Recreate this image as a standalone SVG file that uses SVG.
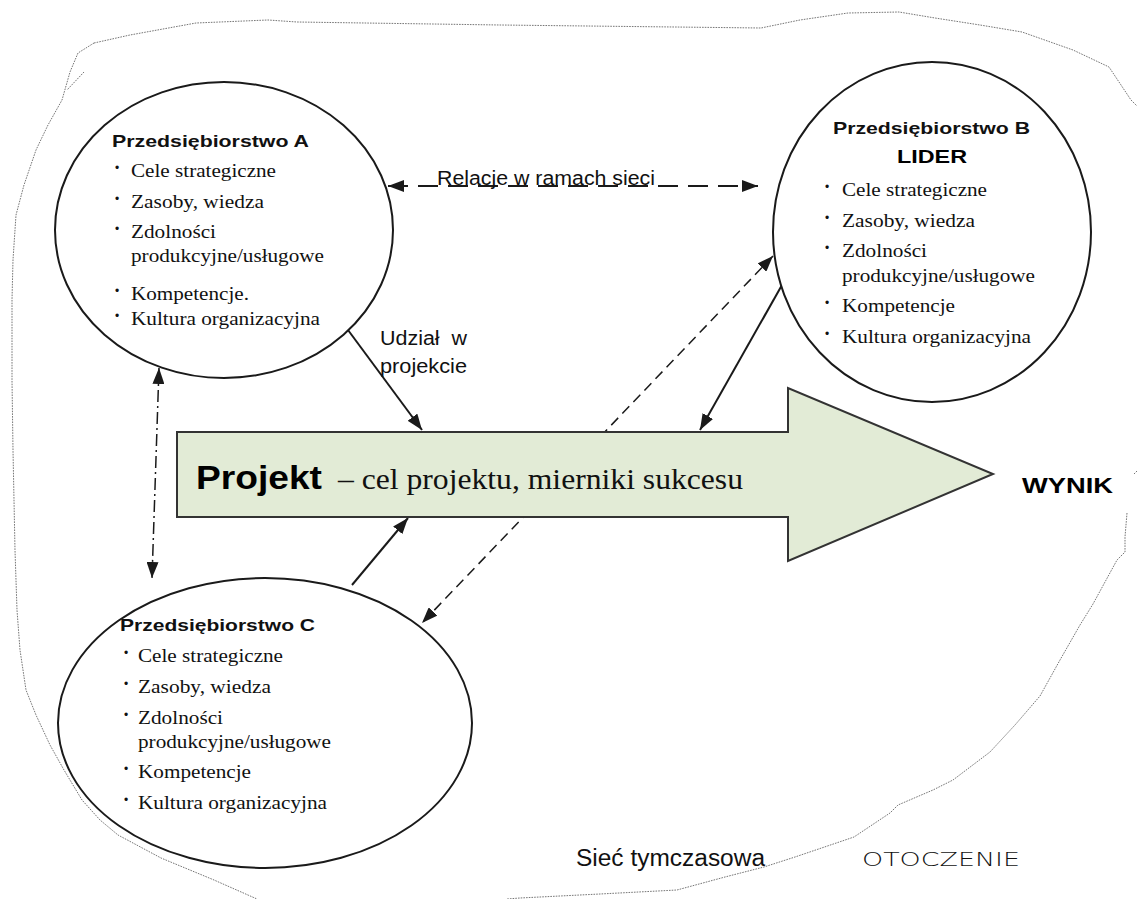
<svg xmlns="http://www.w3.org/2000/svg" width="1137" height="899" viewBox="0 0 1137 899">
<style>
.bg{fill:#ffffff}
.border{fill:none;stroke:#666;stroke-width:0.9;stroke-dasharray:1.6 1.1}
.ell{fill:#ffffff;stroke:#1a1a1a;stroke-width:2}
.title{font-family:"Liberation Sans",Arial,sans-serif;font-weight:bold;font-size:17px;fill:#111}
.item{font-family:"Liberation Serif","Times New Roman",serif;font-size:19px;fill:#111}
.bul{font-family:"Liberation Sans",Arial,sans-serif;font-size:12px;fill:#111}
.lbl{font-family:"Liberation Sans",Arial,sans-serif;font-size:20px;fill:#111}
.heavy{font-family:"Liberation Sans",Arial,sans-serif;font-weight:900;fill:#000}
.conn{fill:none;stroke:#1a1a1a;stroke-width:2}
.dash1{stroke-dasharray:20 10}
.dash2{stroke-width:1.5;stroke-dasharray:10 6}
.dashdot{stroke-width:1.5;stroke-dasharray:12 4 2 4}
.big{fill:#e2ebd6;stroke:#333;stroke-width:2}
</style>
<defs>
<marker id="ah" viewBox="0 0 16 12" refX="16" refY="6" markerWidth="16" markerHeight="12" markerUnits="userSpaceOnUse" orient="auto-start-reverse">
<path d="M0,0 L16,6 L0,12 z" fill="#1a1a1a"/>
</marker>
</defs>
<rect class="bg" x="0" y="0" width="1137" height="899"/>
<g id="border">
<path class="border" d="M94,43 L130,35 L196,23 L268,20 L297,22 L500,25 L761,28 L800,20 L848,13 L899,12 L935,18 L980,25 L1022,32 L1073,50 L1109,67 L1131,100 L1137,106"/>
<path class="border" d="M94,43 L78,53 L70,72 L62,100 L48,125 L36,150 L24,185 L16,215 L13,260 L12,300 L12,380 L13,450 L15,550 L17,610 L20,650 L26,690 L36,715 L50,745 L64,770 L82,800 L100,820 L118,835 L161,858 L214,880 L257,899"/>
<path class="border" d="M84,72 L67,90"/>
<path class="border" d="M1137,471 L1134,474"/>
<path class="border" d="M1127,513 L1125,537 L1125,552 L1117,560 L1093,604 L1080,625 L1060,660 L1040,696 L1015,725 L990,752 L953,780 L933,790 L898,805 L890,813 L854,837 L795,857 L764,867 L725,877 L677,890 L600,894 L520,898 L507,899"/>
</g>
<g id="connectors">
<path class="conn dash1" d="M388,186 L758,186" marker-start="url(#ah)" marker-end="url(#ah)"/>
<path class="conn" d="M348,330 L422,430" marker-end="url(#ah)"/>
<path class="conn" d="M782,285 L700,430" marker-end="url(#ah)"/>
<path class="conn" d="M352,585 L408,518" marker-end="url(#ah)"/>
<path class="conn dash2" d="M773,256 L422,623" marker-start="url(#ah)" marker-end="url(#ah)"/>
<path class="conn dashdot" d="M159,368 L152,578" marker-start="url(#ah)" marker-end="url(#ah)"/>
<text class="lbl" x="437" y="185" textLength="218" lengthAdjust="spacingAndGlyphs">Relacje w ramach sieci</text>
<text class="lbl" x="380" y="345" textLength="87" lengthAdjust="spacingAndGlyphs" xml:space="preserve">Udział  w</text>
<text class="lbl" x="380" y="373" textLength="87" lengthAdjust="spacingAndGlyphs">projekcie</text>
</g>
<g id="projekt">
<path class="big" d="M177,432 L788,432 L788,388 L993,474 L788,561 L788,517 L177,517 Z"/>
<text class="heavy" x="196" y="489" font-size="33" textLength="126" lengthAdjust="spacingAndGlyphs">Projekt</text>
<text class="item" x="338" y="489" style="font-size:30px" textLength="405" lengthAdjust="spacingAndGlyphs">– cel projektu, mierniki sukcesu</text>
</g>
<g id="wynik">
<text class="heavy" x="1022" y="493" font-size="22" textLength="91" lengthAdjust="spacingAndGlyphs">WYNIK</text>
</g>
<g id="przedsiebiorstwo-a">
<ellipse class="ell" cx="224" cy="230" rx="169" ry="148"/>
<text class="title" x="112" y="147" textLength="197" lengthAdjust="spacingAndGlyphs">Przedsiębiorstwo A</text>
<text class="bul" x="115" y="172">•</text>
<text class="item" x="131" y="177" textLength="145" lengthAdjust="spacingAndGlyphs">Cele strategiczne</text>
<text class="bul" x="115" y="202.5">•</text>
<text class="item" x="131" y="207.5" textLength="133" lengthAdjust="spacingAndGlyphs">Zasoby, wiedza</text>
<text class="bul" x="115" y="233">•</text>
<text class="item" x="131" y="238" textLength="85" lengthAdjust="spacingAndGlyphs">Zdolności</text>
<text class="item" x="131" y="262" textLength="193" lengthAdjust="spacingAndGlyphs">produkcyjne/usługowe</text>
<text class="bul" x="115" y="294.5">•</text>
<text class="item" x="131" y="299.5" textLength="118" lengthAdjust="spacingAndGlyphs">Kompetencje.</text>
<text class="bul" x="115" y="320">•</text>
<text class="item" x="131" y="325" textLength="189" lengthAdjust="spacingAndGlyphs">Kultura organizacyjna</text>
</g>
<g id="przedsiebiorstwo-b">
<ellipse class="ell" cx="932" cy="232" rx="159" ry="170"/>
<text class="title" x="833" y="134" textLength="197" lengthAdjust="spacingAndGlyphs">Przedsiębiorstwo B</text>
<text class="heavy" x="897" y="163" font-size="19" textLength="70" lengthAdjust="spacingAndGlyphs">LIDER</text>
<text class="bul" x="825" y="191">•</text>
<text class="item" x="842" y="196" textLength="145" lengthAdjust="spacingAndGlyphs">Cele strategiczne</text>
<text class="bul" x="825" y="221.5">•</text>
<text class="item" x="842" y="226.5" textLength="133" lengthAdjust="spacingAndGlyphs">Zasoby, wiedza</text>
<text class="bul" x="825" y="252">•</text>
<text class="item" x="842" y="257" textLength="85" lengthAdjust="spacingAndGlyphs">Zdolności</text>
<text class="item" x="842" y="281.5" textLength="193" lengthAdjust="spacingAndGlyphs">produkcyjne/usługowe</text>
<text class="bul" x="825" y="307">•</text>
<text class="item" x="842" y="312" textLength="113" lengthAdjust="spacingAndGlyphs">Kompetencje</text>
<text class="bul" x="825" y="338">•</text>
<text class="item" x="842" y="343" textLength="189" lengthAdjust="spacingAndGlyphs">Kultura organizacyjna</text>
</g>
<g id="przedsiebiorstwo-c">
<ellipse class="ell" cx="265" cy="723" rx="207" ry="145"/>
<text class="title" x="120" y="631" textLength="195" lengthAdjust="spacingAndGlyphs">Przedsiębiorstwo C</text>
<text class="bul" x="124" y="657">•</text>
<text class="item" x="138" y="662" textLength="145" lengthAdjust="spacingAndGlyphs">Cele strategiczne</text>
<text class="bul" x="124" y="688">•</text>
<text class="item" x="138" y="693" textLength="133" lengthAdjust="spacingAndGlyphs">Zasoby, wiedza</text>
<text class="bul" x="124" y="719">•</text>
<text class="item" x="138" y="724" textLength="85" lengthAdjust="spacingAndGlyphs">Zdolności</text>
<text class="item" x="138" y="748" textLength="193" lengthAdjust="spacingAndGlyphs">produkcyjne/usługowe</text>
<text class="bul" x="124" y="773">•</text>
<text class="item" x="138" y="778" textLength="113" lengthAdjust="spacingAndGlyphs">Kompetencje</text>
<text class="bul" x="124" y="804">•</text>
<text class="item" x="138" y="809" textLength="189" lengthAdjust="spacingAndGlyphs">Kultura organizacyjna</text>
</g>
<g id="siec-tymczasowa">
<text class="lbl" x="576" y="866" style="font-size:23px" textLength="189" lengthAdjust="spacingAndGlyphs">Sieć tymczasowa</text>
</g>
<g id="otoczenie">
<text x="862" y="866" font-family="'DejaVu Sans','Liberation Sans',sans-serif" font-size="20" font-weight="300" fill="#111" textLength="158" lengthAdjust="spacingAndGlyphs">OTOCZENIE</text>
</g>
</svg>
